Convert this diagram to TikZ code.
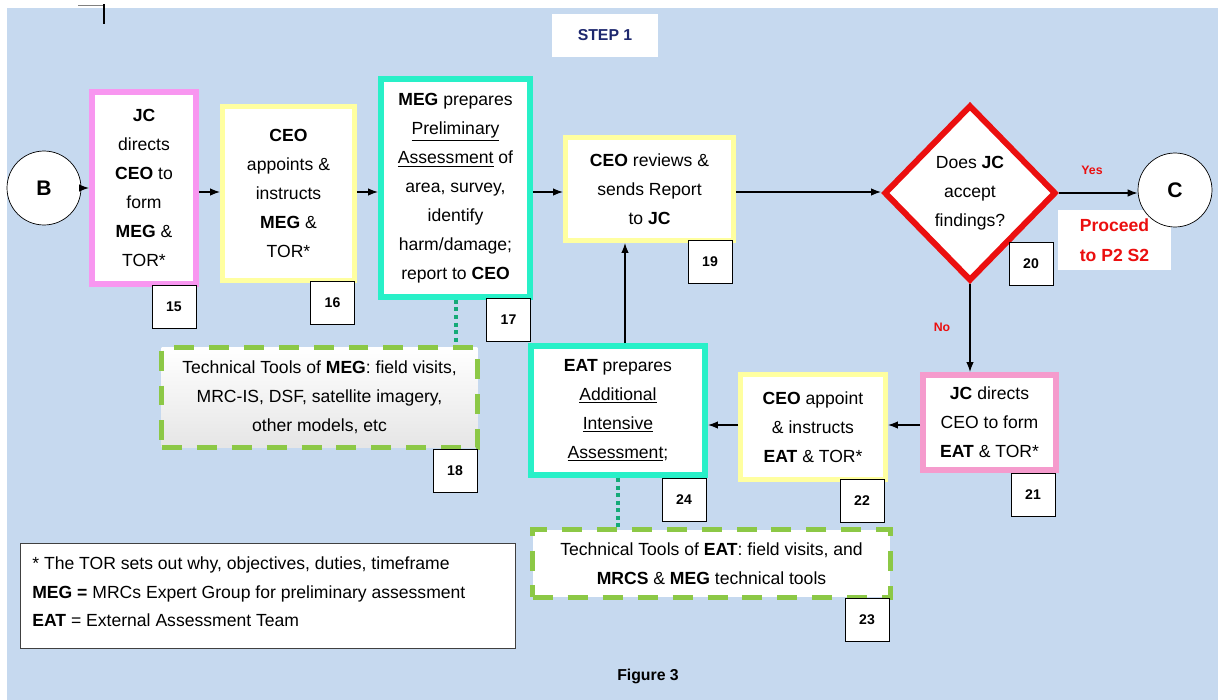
\documentclass[tikz,border=0pt]{standalone}
\usepackage{fontspec}
\setmainfont{Liberation Sans}
\usetikzlibrary{shapes.geometric}
\usetikzlibrary{arrows.meta}
\tikzset{>={Latex[length=2mm,width=1.5mm]}}
\definecolor{bgblue}{RGB}{198,217,239}
\definecolor{tealc}{RGB}{40,240,200}
\definecolor{dotc}{RGB}{20,170,120}
\definecolor{pinka}{RGB}{248,150,240}
\definecolor{pinkb}{RGB}{245,155,205}
\definecolor{yelc}{RGB}{255,255,160}
\definecolor{redc}{RGB}{235,15,15}
\definecolor{greenc}{RGB}{140,200,70}
\definecolor{navyc}{RGB}{30,40,110}

\begin{document}
\begin{tikzpicture}[x=0.02cm, y=-0.02cm,
    txt/.style={align=center, font=\fontsize{10}{16.5}\selectfont, inner sep=0pt, fill=white},
    pinkbox/.style={txt, draw=pinka, line width=0.12cm},
    yelbox/.style={txt, draw=yelc, line width=0.1cm},
    tealbox/.style={txt, draw=tealc, line width=0.12cm},
    toolbox/.style={txt, draw=greenc, line width=0.1cm, dash pattern=on 0.4cm off 0.3cm},
    numbox/.style={draw, thin, fill=white, minimum width=0.88cm, minimum height=0.86cm,
      font=\fontsize{8}{9}\selectfont\bfseries},
    conn/.style={draw, ->, line width=0.7pt},
    tag/.style={text=redc, font=\fontsize{7}{8}\selectfont\bfseries}]
  \useasboundingbox (0,0) rectangle (1218,700);
  \fill[bgblue] (7,8) rectangle (1218,700);
  \draw[gray, line width=0.4pt] (78,5) -- (104,5);
  \draw[line width=0.9pt] (104,4) -- (104,24);

  \node[fill=white, minimum width=2.12cm, minimum height=0.86cm, text=navyc,
    font=\fontsize{9}{11}\selectfont\bfseries] (step) at (605,35.5) {STEP 1};

  % top row
  \node[circle, draw, thin, fill=white, minimum size=1.48cm, font=\fontsize{12}{14}\selectfont\bfseries] (B) at (44,188) {B};
  \node[pinkbox, minimum width=2.08cm, minimum height=3.84cm] (f15) at (144,188)
    {\textbf{JC}\\directs\\\textbf{CEO} to\\form\\\textbf{MEG} \&\\TOR*};
  \node[yelbox, minimum width=2.64cm, minimum height=3.48cm] (f16) at (288.5,193.5)
    {\textbf{CEO}\\appoints \&\\instructs\\\textbf{MEG} \&\\TOR*};
  \node[tealbox, minimum width=2.98cm, minimum height=4.36cm] (f17) at (455.5,188)
    {\textbf{MEG} prepares\\\underline{Preliminary}\\\underline{Assessment} of\\area, survey,\\identify\\harm/damage;\\report to \textbf{CEO}};
  \node[yelbox, minimum width=3.36cm, minimum height=2.06cm] (f19) at (649.5,189)
    {\textbf{CEO} reviews \&\\sends Report\\to \textbf{JC}};
  \node[diamond, draw=redc, line width=0.12cm, fill=white, align=center, inner sep=0pt,
    minimum width=3.44cm, minimum height=3.52cm, font=\fontsize{10}{16.5}\selectfont] (d20) at (970,193)
    {Does \textbf{JC}\\accept\\findings?};
  \node[fill=white, minimum width=2.26cm, minimum height=1.2cm, align=center, text=redc,
    font=\fontsize{10}{17}\selectfont\bfseries] (go) at (1114.5,240) {Proceed\\to P2 S2};
  \node[circle, draw, thin, fill=white, minimum size=1.48cm, font=\fontsize{12}{14}\selectfont\bfseries] (C) at (1175,190) {C};

  % lower row
  \node[pinkbox, draw=pinkb, minimum width=2.66cm, minimum height=1.9cm] (f21) at (989.5,422.5)
    {\textbf{JC} directs\\CEO to form\\\textbf{EAT} \& TOR*};
  \node[yelbox, minimum width=2.9cm, minimum height=2.1cm] (f22) at (813,427)
    {\textbf{CEO} appoint\\\& instructs\\\textbf{EAT} \& TOR*};
  \node[tealbox, minimum width=3.48cm, minimum height=2.58cm] (f24) at (618,410.5)
    {\textbf{EAT} prepares\\\underline{Additional}\\\underline{Intensive}\\\underline{Assessment};};
  \node[toolbox, top color=white, bottom color=gray!20, minimum width=6.32cm, minimum height=2cm] (f18) at (319.5,397.5)
    {Technical Tools of \textbf{MEG}: field visits,\\MRC-IS, DSF, satellite imagery,\\other models, etc};
  \node[toolbox, minimum width=7.16cm, minimum height=1.36cm] (f23) at (711.5,563.5)
    {Technical Tools of \textbf{EAT}: field visits, and\\\textbf{MRCS} \& \textbf{MEG} technical tools};

  % key
  \node[draw=black!75, thin, fill=white, minimum width=9.9cm, minimum height=2.1cm] (key) at (267.5,595.5) {};
  \node[anchor=west, align=left, inner sep=0pt, font=\fontsize{10}{16.3}\selectfont] (keytxt) at (32,592)
    {* The TOR sets out why, objectives, duties, timeframe\\\textbf{MEG =} MRCs Expert Group for preliminary assessment\\\textbf{EAT} = External Assessment Team};
  \node[font=\fontsize{9}{11}\selectfont\bfseries] (fig) at (648,676) {Figure 3};

  % numbers
  \node[numbox] (n15) at (174,306.5) {15};
  \node[numbox] (n16) at (332.5,302.5) {16};
  \node[numbox] (n17) at (508.5,319.5) {17};
  \node[numbox] (n18) at (455,471) {18};
  \node[numbox] (n19) at (710,261.5) {19};
  \node[numbox] (n20) at (1031,263.5) {20};
  \node[numbox] (n21) at (1033,495) {21};
  \node[numbox] (n22) at (862,500.5) {22};
  \node[numbox] (n23) at (867,619.5) {23};
  \node[numbox] (n24) at (684,499.5) {24};

  % connectors
  \coordinate (row) at (0,192);
  \coordinate (low) at (0,425);
  \coordinate (col) at (625,0);
  \draw[conn] (B) -- (B -| f15.west);
  \draw[conn] (f15.east |- row) -- (f16.west |- row);
  \draw[conn] (f16.east |- row) -- (f17.west |- row);
  \draw[conn] (f17.east |- row) -- (f19.west |- row);
  \draw[conn] (f19.east |- row) -- (d20.west |- row);
  \draw[conn] (d20.east) -- (d20.east -| C.west);
  \draw[conn] (d20.south) -- (d20.south |- f21.north);
  \draw[conn] (f21.west |- low) -- (f22.east |- low);
  \draw[conn] (f22.west |- low) -- (f24.east |- low);
  \draw[conn] (f24.north -| col) -- (f19.south -| col);
  \draw[dotc, line width=0.08cm, dotted] (f17.south) -- (f17.south |- f18.north);
  \draw[dotc, line width=0.08cm, dotted] (f24.south) -- (f24.south |- f23.north);
  \node[tag] (yes) at (1092,170) {Yes};
  \node[tag] (no) at (942,327) {No};
\end{tikzpicture}
\end{document}
